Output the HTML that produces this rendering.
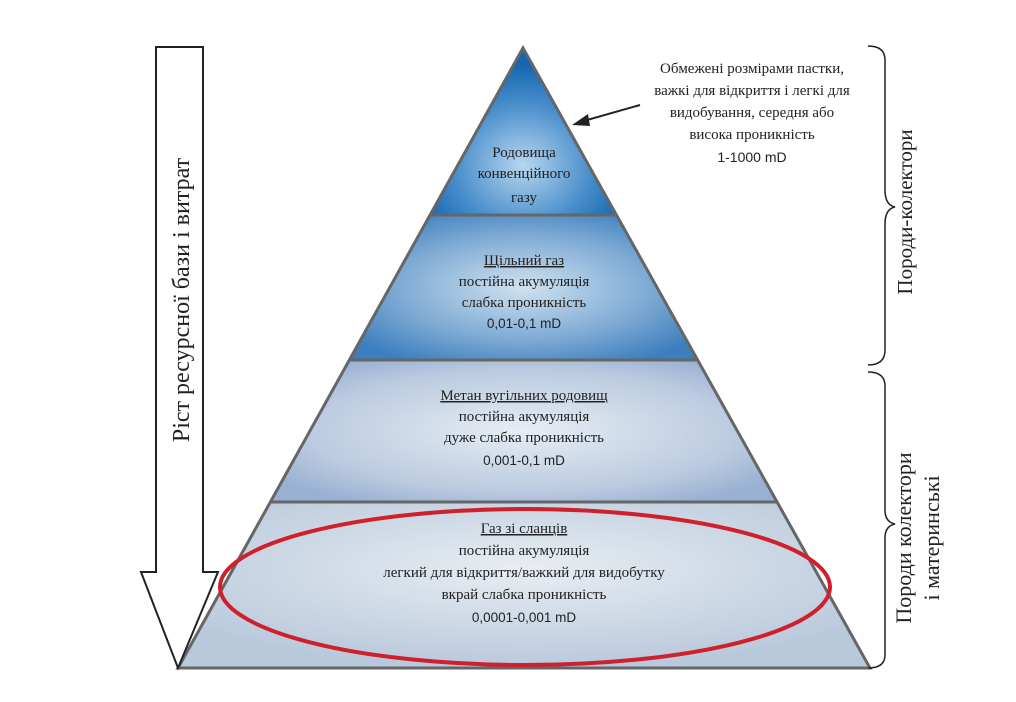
<!DOCTYPE html>
<html><head><meta charset="utf-8"><style>
html,body{margin:0;padding:0;background:#fff;}
svg{display:block;}
text{font-family:"Liberation Serif","DejaVu Serif",serif;fill:#222;}
.s{font-family:"Liberation Sans",sans-serif;}
</style></head><body>
<svg width="1016" height="702" viewBox="0 0 1016 702" xmlns="http://www.w3.org/2000/svg">
<defs>
<radialGradient id="g1" cx="0.5" cy="0.7" r="0.6"><stop offset="0" stop-color="#b8d6ee"/><stop offset="0.6" stop-color="#4a8fcc"/><stop offset="1" stop-color="#1466b0"/></radialGradient>
<radialGradient id="g2" cx="0.5" cy="0.5" r="0.6"><stop offset="0" stop-color="#d0e2f0"/><stop offset="0.6" stop-color="#7eaad4"/><stop offset="1" stop-color="#3d7fbe"/></radialGradient>
<radialGradient id="g3" cx="0.5" cy="0.5" r="0.6"><stop offset="0" stop-color="#e6edf4"/><stop offset="0.7" stop-color="#bccbe0"/><stop offset="1" stop-color="#98b0d2"/></radialGradient>
<radialGradient id="g4" cx="0.5" cy="0.4" r="0.6"><stop offset="0" stop-color="#e8edf2"/><stop offset="1" stop-color="#b9c9dc"/></radialGradient>
</defs>
<polygon points="523,48 430,215 616,215" fill="url(#g1)"/>
<polygon points="430,215 616,215 698,360 349,360" fill="url(#g2)"/>
<polygon points="349,360 698,360 777,502 270,502" fill="url(#g3)"/>
<polygon points="270,502 777,502 870,668 178,668" fill="url(#g4)"/>
<g stroke="#666" stroke-width="3" fill="none">
<polygon points="523,48 870,668 178,668"/>
<line x1="430" y1="215" x2="616" y2="215"/>
<line x1="349" y1="360" x2="698" y2="360"/>
<line x1="270" y1="502" x2="777" y2="502"/>
</g>
<polygon points="156,47 203,47 203,572 218,572 178,668 141,572 156,572" fill="#fff" stroke="#222" stroke-width="2"/>
<text transform="translate(189,300) rotate(-90)" text-anchor="middle" font-size="24">Ріст ресурсної бази і витрат</text>
<line x1="640" y1="105" x2="580" y2="122" stroke="#222" stroke-width="2"/>
<polygon points="572,125 588,114 590,126" fill="#222"/>
<g font-size="15" text-anchor="middle">
<text x="752" y="73">Обмежені розмірами пастки,</text>
<text x="752" y="95">важкі для відкриття і легкі для</text>
<text x="752" y="117">видобування, середня або</text>
<text x="752" y="139">висока проникність</text>
<text x="752" y="162" class="s" font-size="14">1-1000 mD</text>
</g>
<path d="M868,46 Q885,46 885,60 L885,190 Q885,205 895,207 Q885,209 885,224 L885,350 Q885,365 868,365" fill="none" stroke="#222" stroke-width="1.5"/>
<path d="M868,372 Q885,372 885,386 L885,510 Q885,522 895,524 Q885,526 885,538 L885,655 Q885,668 868,668" fill="none" stroke="#222" stroke-width="1.5"/>
<text transform="translate(912,212) rotate(-90)" text-anchor="middle" font-size="21">Породи-колектори</text>
<text transform="translate(911,538) rotate(-90)" text-anchor="middle" font-size="22">Породи колектори</text>
<text transform="translate(939,538) rotate(-90)" text-anchor="middle" font-size="22">і материнські</text>
<g text-anchor="middle" font-size="15">
<text x="524" y="157">Родовища</text>
<text x="524" y="178">конвенційного</text>
<text x="524" y="202">газу</text>
<text x="524" y="265" text-decoration="underline">Щільний газ</text>
<text x="524" y="286">постійна акумуляція</text>
<text x="524" y="307">слабка проникність</text>
<text x="524" y="328" class="s" font-size="13.5">0,01-0,1 mD</text>
<text x="524" y="400" text-decoration="underline">Метан вугільних родовищ</text>
<text x="524" y="421">постійна акумуляція</text>
<text x="524" y="442">дуже слабка проникність</text>
<text x="524" y="465" class="s" font-size="13.5">0,001-0,1 mD</text>
<text x="524" y="533" text-decoration="underline">Газ зі сланців</text>
<text x="524" y="555">постійна акумуляція</text>
<text x="524" y="577">легкий для відкриття/важкий для видобутку</text>
<text x="524" y="599">вкрай слабка проникність</text>
<text x="524" y="622" class="s" font-size="13.5">0,0001-0,001 mD</text>
</g>
<ellipse cx="525" cy="587" rx="305" ry="78" fill="none" stroke="#d0202c" stroke-width="4"/>
</svg>
</body></html>
